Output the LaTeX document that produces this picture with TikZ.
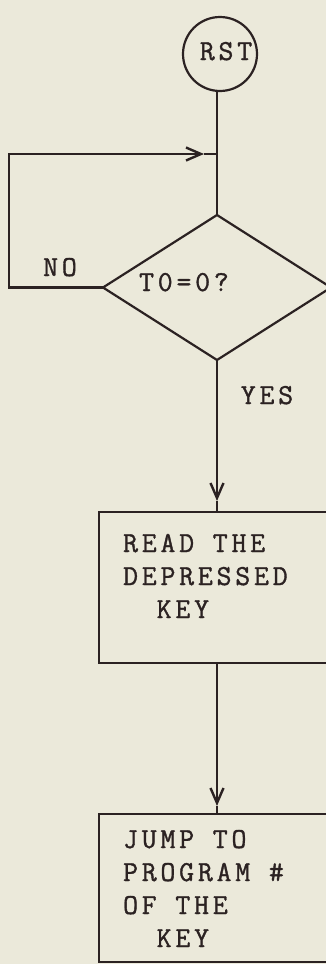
\documentclass[tikz,border=0pt]{standalone}
\usepackage{fontspec}
\setmonofont{Latin Modern Mono}[LetterSpace=13,FakeBold=1.2]
\usetikzlibrary{shapes.geometric,arrows.meta}
\definecolor{paper}{HTML}{EBE9DA}
\definecolor{ink}{HTML}{2B2222}
\begin{document}
\begin{tikzpicture}[x=1pt,y=1pt,
  line width=2.2pt, draw=ink,
  txt/.style={font=\ttfamily\fontsize{29}{33}\selectfont, text=ink, inner sep=0pt},
  tip/.style={-{Straight Barb[length=15pt,width=13pt,line width=2.4pt]}},
  procbox/.style={draw=ink, line width=2.2pt, rectangle, inner sep=0pt, outer sep=0pt},
]
\fill[paper] (0,0) rectangle (326,-964);
\useasboundingbox (0,0) rectangle (326,-964);
\clip (0,0) rectangle (326,-964);

% start circle
\node[draw=ink, circle, minimum size=74pt, inner sep=0pt, outer sep=0pt] (rst) at (220,-54) {};
\node[txt, anchor=base] (rstt) at (226,-60) {RST};

% decision diamond
\node[draw=ink, diamond, minimum width=228pt, minimum height=145pt, inner sep=0pt, outer sep=0pt] (dec) at (217,-287.5) {};
\node[txt, anchor=base west] (dect) at (138,-291) {T0=0?};

% process boxes
\node[procbox, minimum width=241pt, minimum height=151pt, anchor=north west] (b1) at (99,-512) {};
\node[txt, anchor=base west, align=left] (b1t) at (122,-618) {READ THE\\DEPRESSED\\\phantom{XX}KEY};

\node[procbox, minimum width=241pt, minimum height=148pt, anchor=north west] (b2) at (99,-814) {};
\node[txt, anchor=base west, align=left] (b2t) at (122,-947) {JUMP TO\\PROGRAM \#\\OF THE\\\phantom{XX}KEY};

% labels
\node[txt, anchor=base] (no) at (60,-276) {NO};
\node[txt, anchor=base] (yes) at (267,-404) {YES};

% connectors
\coordinate (jn) at (217,-154);
\coordinate (ah) at (204,-154);
\coordinate (lc) at (9,-287.5);
\coordinate (a1) at ([yshift=11pt]dec.south |- b1.north);
\coordinate (a2) at ([yshift=8pt]dec.south |- b2.north);
\draw (rst.south -| jn) -- (dec.north);
\draw[tip] (dec.west) -- (lc) |- (ah);
\draw (ah) -- (jn);
\draw[tip] (dec.south) -- (a1);
\draw (a1) -- (dec.south |- b1.north);
\draw[tip] (b1.south -| dec.south) -- (a2);
\draw (a2) -- (dec.south |- b2.north);
\end{tikzpicture}
\end{document}
